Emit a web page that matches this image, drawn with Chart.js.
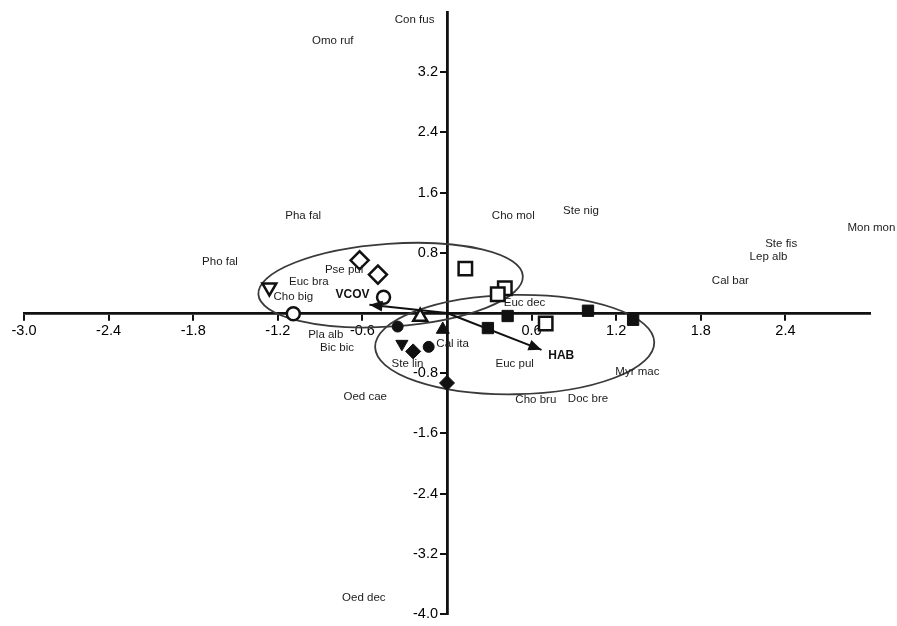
<!DOCTYPE html>
<html lang="en">
<head>
<meta charset="UTF-8">
<title>Ordination biplot</title>
<script src="https://cdn.jsdelivr.net/npm/chart.js"></script>
<style>
  body { margin: 0; background: #fff; }
  #wrap { width: 897px; height: 626px; }
</style>
</head>
<body>
<div id="wrap"><canvas id="biplot" width="897" height="626"></canvas></div>
<script>
// axis ticks (no label at the origin)
const xTicks = [-3.0, -2.4, -1.8, -1.2, -0.6, 0.6, 1.2, 1.8, 2.4];
const yTicks = [3.2, 2.4, 1.6, 0.8, -0.8, -1.6, -2.4, -3.2, -4.0];

// species scores, shown as text only
const speciesNames = ['Con fus', 'Omo ruf', 'Pha fal', 'Pho fal', 'Euc bra', 'Cho big', 'Pse pul',
  'Pla alb', 'Bic bic', 'Cho mol', 'Ste nig', 'Mon mon', 'Ste fis', 'Lep alb', 'Cal bar',
  'Euc dec', 'Cal ita', 'Ste lin', 'Euc pul', 'Myr mac', 'Cho bru', 'Doc bre', 'Oed cae', 'Oed dec'];
const speciesX = [-0.23, -0.81, -1.02, -1.61, -0.98, -1.09, -0.73,
  -0.86, -0.78, 0.47, 0.95, 3.01, 2.37, 2.28, 2.01,
  0.55, 0.04, -0.28, 0.48, 1.35, 0.63, 1.00, -0.58, -0.59];
const speciesY = [3.89, 3.62, 1.29, 0.68, 0.41, 0.21, 0.57,
  -0.29, -0.46, 1.29, 1.36, 1.13, 0.92, 0.74, 0.43,
  0.13, -0.41, -0.67, -0.67, -0.78, -1.16, -1.14, -1.12, -3.79];

// sample scores, one pair of arrays per symbol
const openDiamondX = [-0.62, -0.49];
const openDiamondY = [0.70, 0.51];
const openCircleX = [-0.45, -1.09];
const openCircleY = [0.21, -0.01];
const openTriDownX = [-1.26];
const openTriDownY = [0.34];
const openTriUpX = [-0.19];
const openTriUpY = [-0.05];
const openSquareX = [0.13, 0.41, 0.36, 0.70];
const openSquareY = [0.59, 0.33, 0.25, -0.14];
const fullSquareX = [0.29, 0.43, 1.00, 1.32];
const fullSquareY = [-0.20, -0.04, 0.03, -0.09];
const fullCircleX = [-0.35, -0.13];
const fullCircleY = [-0.18, -0.45];
const fullTriDownX = [-0.32];
const fullTriDownY = [-0.41];
const fullDiamondX = [-0.24, 0.0];
const fullDiamondY = [-0.51, -0.93];
const fullTriUpX = [-0.03];
const fullTriUpY = [-0.22];

// environmental vectors
const vectorNames = ['VCOV', 'HAB'];
const vectorX = [-0.55, 0.67];
const vectorY = [0.11, -0.49];
const vectorLabelX = [-0.67, 0.81];
const vectorLabelY = [0.24, -0.57];

// group ellipses: centre, semi-axes and tilt in degrees
const ellipseCX = [-0.40, 0.48];
const ellipseCY = [0.37, -0.42];
const ellipseRX = [0.94, 0.99];
const ellipseRY = [0.55, 0.66];
const ellipseTilt = [-4, -1];

const FONT = '"Liberation Sans", Arial, sans-serif';
const INK = '#111';

function pts(xs, ys) {
  return xs.map((x, i) => ({x: x, y: ys[i]}));
}

function marker(data, style, radius, filled, rotation) {
  return {
    data: data,
    pointStyle: style,
    pointRadius: radius,
    pointHoverRadius: radius,
    pointRotation: rotation || 0,
    pointBackgroundColor: filled ? INK : '#fff',
    pointBorderColor: INK,
    pointBorderWidth: filled ? 1 : 2.5
  };
}

function vectorLine(i) {
  return {
    data: [{x: 0, y: 0}, {x: vectorX[i], y: vectorY[i]}],
    showLine: true,
    borderColor: INK,
    borderWidth: 2,
    pointRadius: 0,
    pointHoverRadius: 0
  };
}

const overlay = {
  id: 'overlay',
  beforeDatasetsDraw(chart) {
    const {ctx, scales: {x, y}} = chart;
    ctx.save();
    ctx.strokeStyle = '#3a3a3a';
    ctx.lineWidth = 1.8;
    ellipseCX.forEach((cx, i) => {
      const px = x.getPixelForValue(cx);
      const py = y.getPixelForValue(ellipseCY[i]);
      const rx = x.getPixelForValue(cx + ellipseRX[i]) - px;
      const ry = py - y.getPixelForValue(ellipseCY[i] + ellipseRY[i]);
      ctx.beginPath();
      ctx.ellipse(px, py, rx, ry, ellipseTilt[i] * Math.PI / 180, 0, 2 * Math.PI);
      ctx.stroke();
    });
    ctx.restore();
  },
  afterDatasetsDraw(chart) {
    const {ctx, scales: {x, y}} = chart;
    ctx.save();
    // arrow heads
    ctx.fillStyle = INK;
    vectorX.forEach((vx, i) => {
      const x0 = x.getPixelForValue(0), y0 = y.getPixelForValue(0);
      const x1 = x.getPixelForValue(vx), y1 = y.getPixelForValue(vectorY[i]);
      const a = Math.atan2(y1 - y0, x1 - x0);
      const len = 13, half = 5.5;
      ctx.beginPath();
      ctx.moveTo(x1, y1);
      ctx.lineTo(x1 - len * Math.cos(a) + half * Math.sin(a), y1 - len * Math.sin(a) - half * Math.cos(a));
      ctx.lineTo(x1 - len * Math.cos(a) - half * Math.sin(a), y1 - len * Math.sin(a) + half * Math.cos(a));
      ctx.closePath();
      ctx.fill();
    });
    // species names
    ctx.textAlign = 'center';
    ctx.textBaseline = 'middle';
    ctx.fillStyle = '#1c1c1c';
    ctx.font = '11.5px ' + FONT;
    speciesNames.forEach((name, i) => {
      ctx.fillText(name, x.getPixelForValue(speciesX[i]), y.getPixelForValue(speciesY[i]));
    });
    // vector names
    ctx.font = 'bold 12px ' + FONT;
    ctx.fillStyle = INK;
    vectorNames.forEach((name, i) => {
      ctx.fillText(name, x.getPixelForValue(vectorLabelX[i]), y.getPixelForValue(vectorLabelY[i]));
    });
    ctx.restore();
  }
};

function axisOpts(min, max, tickList) {
  return {
    type: 'linear',
    position: 'center',
    min: min,
    max: max,
    afterBuildTicks: axis => { axis.ticks = tickList.map(v => ({value: v})); },
    ticks: {
      autoSkip: false,
      maxRotation: 0,
      color: '#000',
      padding: 3,
      font: {family: FONT, size: 14.5},
      callback: v => v.toFixed(1)
    },
    grid: {display: true, drawOnChartArea: false, drawTicks: true, tickLength: 6, color: INK, lineWidth: 2},
    border: {display: true, color: INK, width: 2.8}
  };
}

new Chart(document.getElementById('biplot'), {
  type: 'scatter',
  data: {
    datasets: [
      vectorLine(0),
      vectorLine(1),
      marker(pts(openDiamondX, openDiamondY), 'rectRot', 9, false),
      marker(pts(openCircleX, openCircleY), 'circle', 6.5, false),
      marker(pts(openTriDownX, openTriDownY), 'triangle', 8, false, 180),
      marker(pts(openTriUpX, openTriUpY), 'triangle', 8, false),
      marker(pts(openSquareX, openSquareY), 'rect', 9.5, false),
      marker(pts(fullSquareX, fullSquareY), 'rect', 8, true),
      marker(pts(fullCircleX, fullCircleY), 'circle', 5.5, true),
      marker(pts(fullTriDownX, fullTriDownY), 'triangle', 7, true, 180),
      marker(pts(fullDiamondX, fullDiamondY), 'rectRot', 7.5, true),
      marker(pts(fullTriUpX, fullTriUpY), 'triangle', 7.5, true)
    ]
  },
  options: {
    responsive: false,
    animation: false,
    layout: {padding: {left: 24, right: 27, top: 10, bottom: 9}},
    plugins: {legend: {display: false}, tooltip: {enabled: false}},
    scales: {
      x: axisOpts(-3, 3, xTicks),
      y: axisOpts(-4, 4, yTicks)
    }
  },
  plugins: [overlay]
});
</script>
</body>
</html>
